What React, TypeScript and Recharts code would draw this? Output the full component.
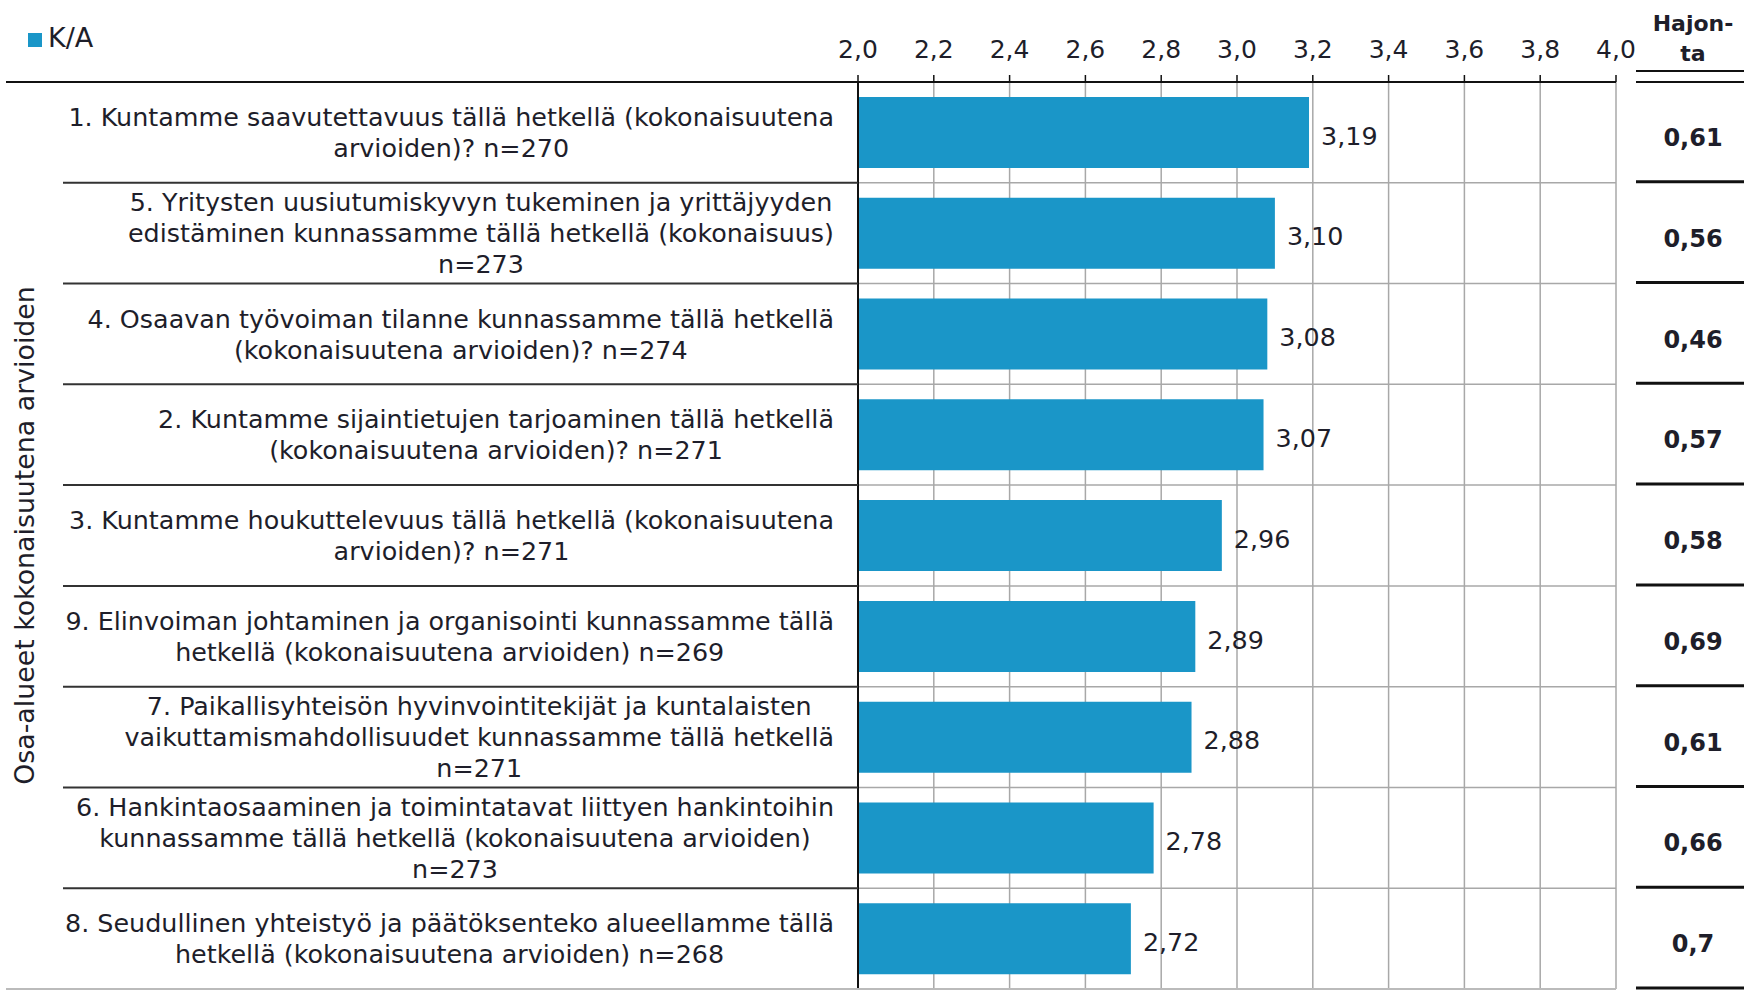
import { BarChart, Bar, XAxis, YAxis, CartesianGrid, Legend, LabelList } from "recharts";

const labels = [
  "1. Kuntamme saavutettavuus tällä hetkellä (kokonaisuutena\narvioiden)? n=270",
  "5. Yritysten uusiutumiskyvyn tukeminen ja yrittäjyyden\nedistäminen kunnassamme tällä hetkellä (kokonaisuus)\nn=273",
  "4. Osaavan työvoiman tilanne kunnassamme tällä hetkellä\n(kokonaisuutena arvioiden)? n=274",
  "2. Kuntamme sijaintietujen tarjoaminen tällä hetkellä\n(kokonaisuutena arvioiden)? n=271",
  "3. Kuntamme houkuttelevuus tällä hetkellä (kokonaisuutena\narvioiden)? n=271",
  "9. Elinvoiman johtaminen ja organisointi kunnassamme tällä\nhetkellä (kokonaisuutena arvioiden) n=269",
  "7. Paikallisyhteisön hyvinvointitekijät ja kuntalaisten\nvaikuttamismahdollisuudet kunnassamme tällä hetkellä\nn=271",
  "6. Hankintaosaaminen ja toimintatavat liittyen hankintoihin\nkunnassamme tällä hetkellä (kokonaisuutena arvioiden)\nn=273",
  "8. Seudullinen yhteistyö ja päätöksenteko alueellamme tällä\nhetkellä (kokonaisuutena arvioiden) n=268",
];
const means = [3.19, 3.1, 3.08, 3.07, 2.96, 2.89, 2.88, 2.78, 2.72];
const hajonta = [0.61, 0.56, 0.46, 0.57, 0.58, 0.69, 0.61, 0.66, 0.7];
const xTicks = [2, 2.2, 2.4, 2.6, 2.8, 3, 3.2, 3.4, 3.6, 3.8, 4];
const seriesName = "K/A";
const axisTitle = "Osa-alueet kokonaisuutena arvioiden";
const sdHeader = ["Hajon-", "ta"];

const data = labels.map((name, i) => ({ name, mean: means[i], sd: hajonta[i] }));

const W = 1744;
const H = 990;
const TOP = 82;
const BOTTOM_M = 1;
const RIGHT_M = 128;
const Y_W = 858;
const ROW_H = (H - TOP - BOTTOM_M) / labels.length;
const FONT = "'DejaVu Sans', Verdana, sans-serif";
const FS = 25.4;
const LINE_H = 31;
const TEXT = "#1e1e2a";
const LABEL_RIGHT = 834;
const SD_X = 1693;

let ctx: CanvasRenderingContext2D | null = null;
function measure(s: string) {
  if (!ctx) ctx = document.createElement("canvas").getContext("2d");
  if (!ctx) return s.length * FS * 0.6;
  ctx.font = `${FS}px 'DejaVu Sans'`;
  return ctx.measureText(s).width;
}

const comma = (v: number, d?: number) =>
  (d === undefined ? String(v) : v.toFixed(d)).replace(".", ",");

function RowTick(props: any) {
  const { y, payload, index } = props;
  const lines = String(payload.value).split("\n");
  const maxW = Math.max(...lines.map(measure));
  const cx = LABEL_RIGHT - maxW / 2;
  const y0 = y - ((lines.length - 1) * LINE_H) / 2;
  const last = index === labels.length - 1;
  const yb = y + ROW_H / 2;
  return (
    <g>
      {index === 0 && (
        <g>
          <line x1={6} x2={Y_W} y1={y - ROW_H / 2} y2={y - ROW_H / 2} stroke="#111" strokeWidth={2} />
          <line x1={1636} x2={W} y1={71} y2={71} stroke="#111" strokeWidth={2} />
          <line x1={1636} x2={W} y1={82} y2={82} stroke="#111" strokeWidth={2} />
          {sdHeader.map((t, k) => (
            <text key={k} x={SD_X} y={23 + k * 30} dy="0.35em" textAnchor="middle" fontFamily={FONT} fontSize={22} fontWeight="bold" fill={TEXT}>
              {t}
            </text>
          ))}
        </g>
      )}
      <text x={cx} y={y0} textAnchor="middle" fontFamily={FONT} fontSize={FS} fill={TEXT}>
        {lines.map((l, k) => (
          <tspan key={k} x={cx} y={y0 + k * LINE_H} dy="0.36em">
            {l}
          </tspan>
        ))}
      </text>
      <line
        x1={last ? 6 : 63}
        x2={last ? W - RIGHT_M : Y_W}
        y1={yb}
        y2={yb}
        stroke={last ? "#bbb" : "#333"}
        strokeWidth={2}
      />
      <text x={SD_X} y={y + 5} dy="0.36em" textAnchor="middle" fontFamily={FONT} fontSize={24} fontWeight="bold" fill={TEXT}>
        {comma(hajonta[index])}
      </text>
      <line x1={1636} x2={W} y1={yb - 1} y2={yb - 1} stroke="#111" strokeWidth={3} />
    </g>
  );
}

function BarValue(props: any) {
  const { x, y, width, height, value } = props;
  return (
    <text
      x={x + width + 12}
      y={y + height / 2 + 3}
      dy="0.36em"
      fontFamily={FONT}
      fontSize={FS}
      fill={TEXT}
    >
      {comma(Number(value), 2)}
    </text>
  );
}

export default function App() {
  return (
    <div style={{ position: "absolute", left: 0, top: 0, fontFamily: FONT }}>
      <BarChart
        width={W}
        height={H}
        data={data}
        layout="vertical"
        margin={{ top: 0, right: RIGHT_M, bottom: BOTTOM_M, left: 0 }}
      >
        <CartesianGrid
          stroke="#a8a8a8"
          strokeWidth={1.5}
          horizontalCoordinatesGenerator={({ offset }: any) =>
            labels.map((_, i) => offset.top + ((i + 1) * offset.height) / labels.length)
          }
        />
        <XAxis
          type="number"
          orientation="top"
          domain={[2, 4]}
          ticks={xTicks}
          interval={0}
          allowDataOverflow
          height={TOP}
          tickFormatter={(v: number) => comma(v, 1)}
          tick={{ fontSize: 25, fill: TEXT, fontFamily: FONT }}
          axisLine={{ stroke: "#111", strokeWidth: 2 }}
          tickLine={{ stroke: "#111", strokeWidth: 1.5 }}
          tickSize={7}
          tickMargin={17}
        />
        <YAxis
          type="category"
          dataKey="name"
          width={Y_W}
          interval={0}
          tick={<RowTick />}
          tickLine={false}
          axisLine={{ stroke: "#111", strokeWidth: 2 }}
          label={{
            value: axisTitle,
            angle: -90,
            position: "insideLeft",
            offset: 24,
            textAnchor: "middle",
            style: { fontSize: 26.8, fill: TEXT, fontFamily: FONT },
          }}
        />
        <Legend
          layout="horizontal"
          verticalAlign="middle"
          align="center"
          iconType="square"
          iconSize={14}
          wrapperStyle={{ top: 22, left: 28, width: "auto", fontSize: 27, fontFamily: FONT }}
          formatter={(v: string) => <span style={{ color: TEXT, marginLeft: 2 }}>{v}</span>}
        />
        <Bar dataKey="mean" name={seriesName} fill="#1a96c8" barSize={71} isAnimationActive={false}>
          <LabelList dataKey="mean" content={<BarValue />} />
        </Bar>
      </BarChart>
    </div>
  );
}
